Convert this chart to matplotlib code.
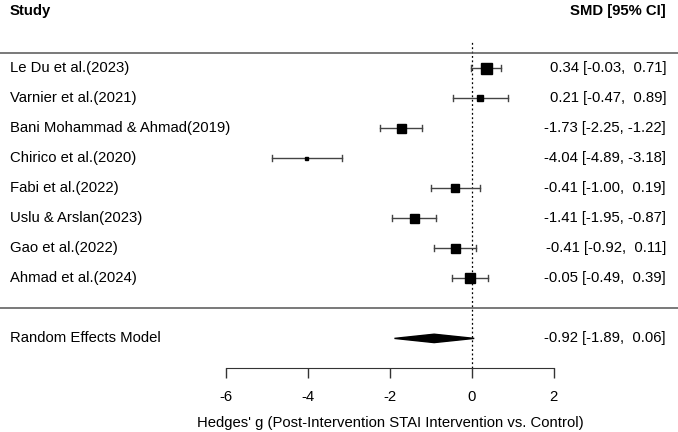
import matplotlib
matplotlib.use("Agg")
import matplotlib.pyplot as plt
import matplotlib.transforms as mtransforms

studies = ["Le Du et al.(2023)", "Varnier et al.(2021)", "Bani Mohammad & Ahmad(2019)",
           "Chirico et al.(2020)", "Fabi et al.(2022)", "Uslu & Arslan(2023)",
           "Gao et al.(2022)", "Ahmad et al.(2024)"]
smd = [0.34, 0.21, -1.73, -4.04, -0.41, -1.41, -0.41, -0.05]
ci_low = [-0.03, -0.47, -2.25, -4.89, -1.00, -1.95, -0.92, -0.49]
ci_high = [0.71, 0.89, -1.22, -3.18, 0.19, -0.87, 0.11, 0.39]
weights = [11, 6, 9, 3, 8, 9, 9, 10]  # relative square sizes
re_est, re_low, re_high = -0.92, -1.89, 0.06
xticks = [-6, -4, -2, 0, 2]
xlabel = "Hedges' g (Post-Intervention STAI Intervention vs. Control)"

plt.rcParams['font.family'] = ['Liberation Sans', 'DejaVu Sans']
FS = 10.7

fig = plt.figure(figsize=(6.78, 4.32), dpi=100)
ax = fig.add_axes([0, 0, 1, 1])
ax.set_xlim(-11.53, 5.04)
ax.set_ylim(-4.12, 10.28)

k = len(studies)
rows = list(range(k, 0, -1))
tr = mtransforms.blended_transform_factory(ax.transAxes, ax.transData)
XL, XR = 10 / 678, 666 / 678

for r, name, e, lo, hi, w in zip(rows, studies, smd, ci_low, ci_high, weights):
    ax.plot([lo, hi], [r, r], color="#444444", lw=1.0, zorder=2)
    for c in (lo, hi):
        ax.plot([c, c], [r - 0.1, r + 0.1], color="#444444", lw=1.0, zorder=2)
    ax.plot([e], [r], marker="s", ms=w * 0.72, color="black", mec="black", zorder=3)
    ax.text(XL, r, name, transform=tr, ha="left", va="center", fontsize=FS)
    ax.text(XR, r, f"{e:.2f} [{lo:.2f}, {hi:5.2f}]", transform=tr,
            ha="right", va="center", fontsize=FS)

# summary diamond
ax.fill([re_low, re_est, re_high, re_est], [-1, -1 + 0.14, -1, -1 - 0.14],
        color="black", zorder=3)
ax.text(XL, -1, "Random Effects Model", transform=tr, ha="left", va="center", fontsize=FS)
ax.text(XR, -1, f"{re_est:.2f} [{re_low:.2f}, {re_high:5.2f}]", transform=tr,
        ha="right", va="center", fontsize=FS)

# headers
ax.text(XL, 9.9, "Study", transform=tr, ha="left", va="center", fontsize=FS, fontweight="bold")
ax.text(XR, 9.9, "SMD [95% CI]", transform=tr, ha="right", va="center", fontsize=FS, fontweight="bold")

# separators
ax.axhline(8.5, color="#555555", lw=1.1)
ax.axhline(0, color="#555555", lw=1.1)

# reference line
ax.plot([0, 0], [-2, 8.9], color="black", lw=0.9, ls=(0, (1.5, 2)), zorder=1)

# x axis
for s in ("top", "left", "right"):
    ax.spines[s].set_visible(False)
ax.spines["bottom"].set_position(("data", -2))
ax.spines["bottom"].set_bounds(xticks[0], xticks[-1])
ax.spines["bottom"].set_color("#333333")
ax.set_xticks(xticks)
ax.set_xticklabels([str(t) for t in xticks])
ax.tick_params(axis="x", direction="out", length=7, width=1, color="#333333",
               labelsize=FS, pad=8.6)
ax.set_yticks([])
ax.set_xlabel(xlabel, fontsize=FS)
lab_tr = mtransforms.blended_transform_factory(ax.transData, ax.transAxes)
ax.xaxis.set_label_coords((xticks[0] + xticks[-1]) / 2, 0.0375, transform=lab_tr)

fig.savefig("out.png", dpi=100)
